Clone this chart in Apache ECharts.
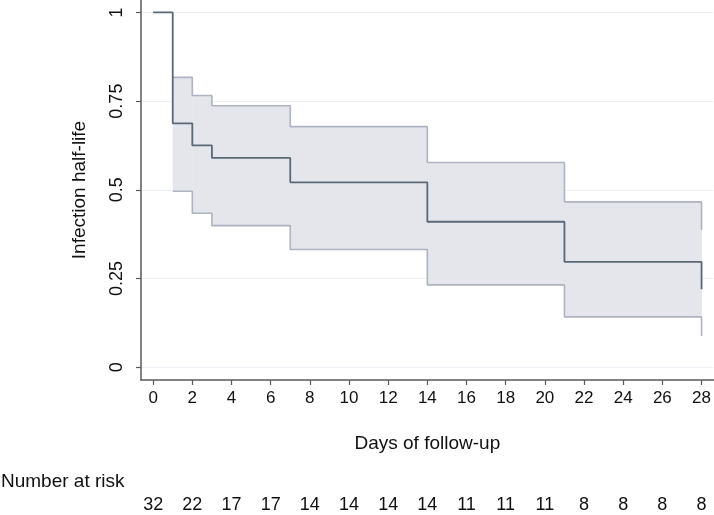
<!DOCTYPE html>
<html>
<head>
<meta charset="utf-8">
<script src="https://cdn.jsdelivr.net/npm/echarts@6/dist/echarts.min.js"></script>
<style>
html,body{margin:0;padding:0;background:#fff;}
#chart{width:714px;height:515px;}
</style>
</head>
<body>
<div id="chart"></div>
<script>
// Kaplan-Meier estimate (step function values from each time onward)
const days = [0, 1, 2, 3, 7, 14, 21, 28];
const survival = [1, 0.6875, 0.625, 0.59, 0.521, 0.41, 0.297, 0.22];
// 95% confidence band
const ciDays = [1, 2, 3, 7, 14, 21, 28];
const upperCI = [0.817, 0.766, 0.737, 0.678, 0.577, 0.466, 0.387];
const lowerCI = [0.496, 0.434, 0.399, 0.332, 0.232, 0.142, 0.088];
// axes
const xTicks = [0, 2, 4, 6, 8, 10, 12, 14, 16, 18, 20, 22, 24, 26, 28];
const yTicks = [0, 0.25, 0.5, 0.75, 1];
const atRisk = [32, 22, 17, 17, 14, 14, 14, 14, 11, 11, 11, 8, 8, 8, 8];

const FONT = '"Liberation Sans", Arial, Helvetica, sans-serif';
const axisColor = '#5a5a5a';

const pairs = (xs, ys) => xs.map((x, i) => [x, ys[i]]);
// band intervals: [start, end, lower, upper]
const bandData = ciDays.slice(0, -1).map((d, i) => [d, ciDays[i + 1], lowerCI[i], upperCI[i]]);

const chart = echarts.init(document.getElementById('chart'), null, {renderer: 'canvas'});
chart.setOption({
  animation: false,
  backgroundColor: '#ffffff',
  textStyle: {fontFamily: FONT},
  grid: {left: 141, right: 0, top: 0, bottom: 135, containLabel: false},
  xAxis: [{
    type: 'value', min: -0.62, max: 28.62,
    name: 'Days of follow-up', nameLocation: 'middle', nameGap: 54,
    nameTextStyle: {fontFamily: FONT, fontSize: 19, color: '#111'},
    axisLine: {show: true, onZero: false, lineStyle: {color: axisColor, width: 1.5}},
    axisTick: {show: true, length: 5, customValues: xTicks, lineStyle: {color: axisColor, width: 1.2}},
    axisLabel: {customValues: xTicks, fontFamily: FONT, fontSize: 17, color: '#111', margin: 10},
    splitLine: {show: false}
  }, {
    type: 'value', min: -0.62, max: 28.62, position: 'bottom', offset: 116,
    axisLine: {show: false}, axisTick: {show: false}, splitLine: {show: false},
    axisLabel: {customValues: xTicks, fontFamily: FONT, fontSize: 18, color: '#111', margin: 0,
      formatter: v => { const i = xTicks.indexOf(Math.round(v)); return i >= 0 ? String(atRisk[i]) : ''; }}
  }],
  yAxis: {
    type: 'value', min: -0.036, max: 1.035,
    name: 'Infection half-life', nameLocation: 'middle', nameGap: 52,
    nameTextStyle: {fontFamily: FONT, fontSize: 19, color: '#111'},
    axisLine: {show: true, onZero: false, lineStyle: {color: axisColor, width: 1.5}},
    axisTick: {show: true, length: 5, customValues: yTicks, lineStyle: {color: axisColor, width: 1.2}},
    axisLabel: {customValues: yTicks, rotate: 90, fontFamily: FONT, fontSize: 18, color: '#111', margin: 15},
    splitLine: {show: true, lineStyle: {color: '#eef1f5', width: 1.2}}
  },
  graphic: [{
    type: 'text', left: 1, top: 472,
    style: {text: 'Number at risk', font: '19px ' + FONT, fill: '#111'}
  }],
  series: [
    {type: 'custom', silent: true, z: 1, data: bandData,
     encode: {x: [0, 1], y: [2, 3]},
     renderItem: (params, api) => {
       const p0 = api.coord([api.value(0), api.value(3)]);
       const p1 = api.coord([api.value(1), api.value(2)]);
       return {type: 'rect',
         shape: {x: p0[0], y: p0[1], width: p1[0] - p0[0] + 0.5, height: p1[1] - p0[1]},
         style: {fill: '#e4e6ec'}};
     }},
    {type: 'line', step: 'end', symbol: 'none', data: pairs(ciDays, upperCI),
     lineStyle: {color: '#adb3c0', width: 1.6}, z: 2},
    {type: 'line', step: 'end', symbol: 'none', data: pairs(ciDays, lowerCI),
     lineStyle: {color: '#adb3c0', width: 1.6}, z: 2},
    {type: 'line', step: 'end', symbol: 'none', data: pairs(days, survival),
     lineStyle: {color: '#5b6876', width: 1.8}, z: 3}
  ]
});
</script>
</body>
</html>
